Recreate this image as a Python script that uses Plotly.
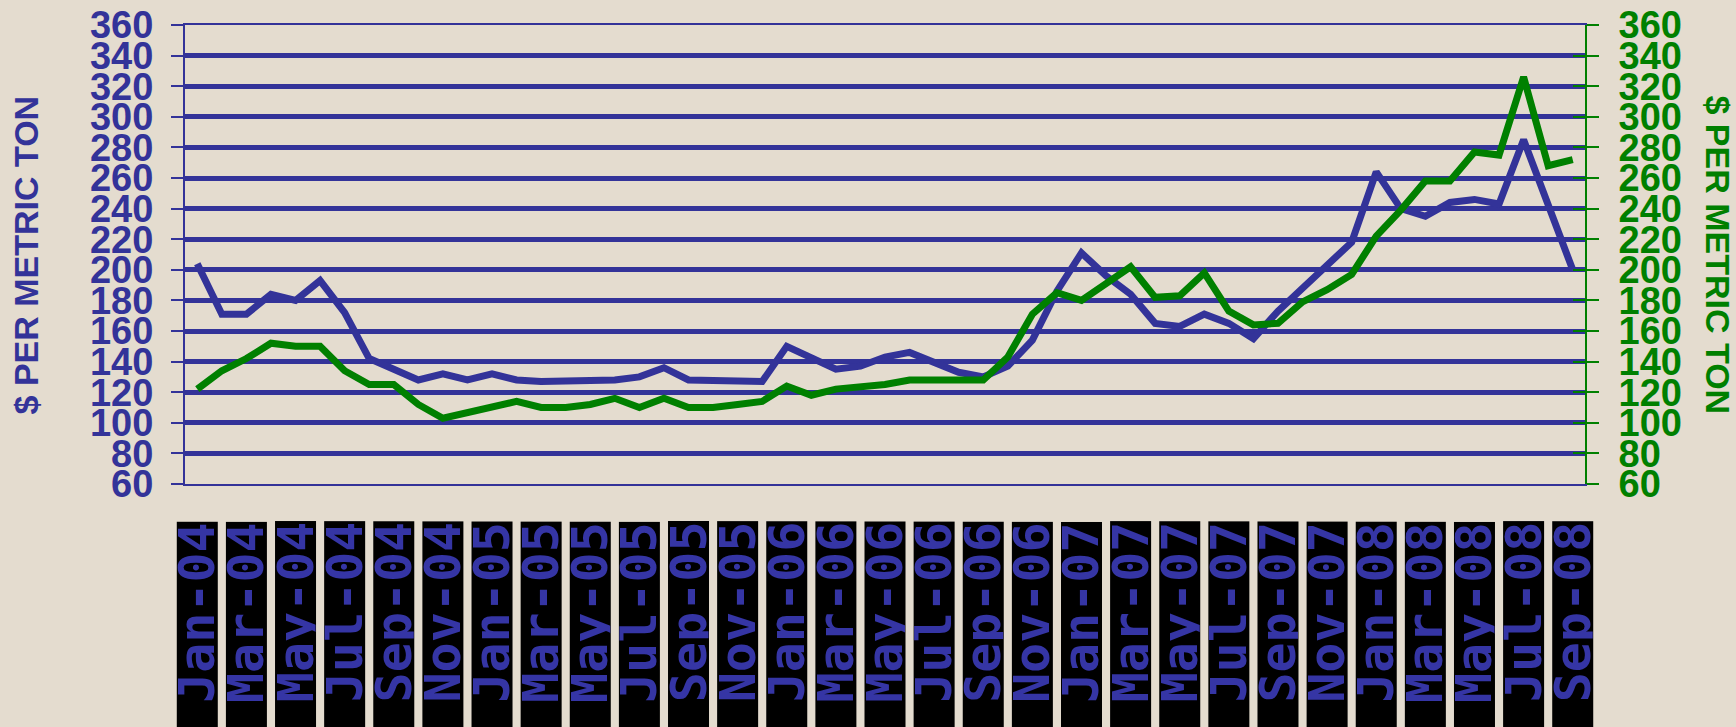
import plotly.graph_objects as go

# Monthly categories Jan-04 .. Sep-08
MONTH_ABBR = ["Jan", "Feb", "Mar", "Apr", "May", "Jun",
              "Jul", "Aug", "Sep", "Oct", "Nov", "Dec"]
MONTHS = [f"{m}-{y:02d}" for y in (4, 5, 6, 7, 8) for m in MONTH_ABBR][:57]

# Bi-monthly axis labels
TICK_LABELS = [
    "Jan-04", "Mar-04", "May-04", "Jul-04", "Sep-04", "Nov-04",
    "Jan-05", "Mar-05", "May-05", "Jul-05", "Sep-05", "Nov-05",
    "Jan-06", "Mar-06", "May-06", "Jul-06", "Sep-06", "Nov-06",
    "Jan-07", "Mar-07", "May-07", "Jul-07", "Sep-07", "Nov-07",
    "Jan-08", "Mar-08", "May-08", "Jul-08", "Sep-08",
]

# $ per metric ton, left (blue) series
BLUE_SERIES = [
    204, 171, 171, 184, 180, 193, 172, 142, 135, 128, 132, 128,
    132, 128, 127, 127, 127, 128, 130, 136, 128, 128, 128, 127,
    150, 143, 135, 137, 143, 146, 139, 133, 130, 137, 154, 186,
    211, 196, 184, 165, 163, 171, 165, 155, 173, 188, 203, 218,
    264, 240, 235, 244, 246, 243, 285, 243, 200,
]

# $ per metric ton, right (green) series
GREEN_SERIES = [
    122, 134, 142, 152, 150, 150, 134, 125, 125, 112, 103, 107,
    111, 114, 110, 110, 112, 116, 110, 116, 110, 110, 112, 114,
    124, 118, 122, 123, 125, 128, 128, 128, 128, 143, 171, 185,
    180, 191, 202, 182, 183, 198, 173, 164, 165, 179, 187, 197,
    222, 239, 258, 258, 277, 275, 326, 268, 272,
]

Y_TICKS = list(range(60, 361, 20))

BLUE = "#333399"
LABEL_BLUE = "#3535a5"
GREEN = "#008000"
BG = "#e4dccf"
TICK_FONT = "Liberation Sans, Arial, sans-serif"
LABEL_FONT = "DejaVu Sans Mono, monospace"

fig = go.Figure()
fig.add_trace(go.Scatter(x=MONTHS, y=BLUE_SERIES, mode="lines",
                         line=dict(color=BLUE, width=7), yaxis="y",
                         showlegend=False))
fig.add_trace(go.Scatter(x=MONTHS, y=GREEN_SERIES, mode="lines",
                         line=dict(color=GREEN, width=7), yaxis="y2",
                         showlegend=False))
# invisible copy on the right-hand tick axis so its inner tick marks render
fig.add_trace(go.Scatter(x=MONTHS, y=GREEN_SERIES, mode="lines",
                         line=dict(color="rgba(0,0,0,0)", width=0),
                         yaxis="y3", showlegend=False, hoverinfo="skip"))

# Month labels in black boxes below the plot
annotations = []
for lab in TICK_LABELS:
    annotations.append(dict(
        x=lab, xref="x", y=-0.0806, yref="paper",
        xanchor="center", yanchor="top",
        text=lab, textangle=-90, showarrow=False,
        width=260, height=40, align="right", valign="middle",
        bgcolor="black", borderpad=0,
        font=dict(family=LABEL_FONT, size=50, color=LABEL_BLUE,
                  weight="bold"),
    ))

# Axis titles
annotations.append(dict(
    x=-0.1136, xref="paper", y=0.5, yref="paper",
    text="$ PER METRIC TON", textangle=-90, showarrow=False,
    xanchor="center", yanchor="middle",
    font=dict(family=TICK_FONT, size=34, color=BLUE, weight="bold"),
))
annotations.append(dict(
    x=1.095, xref="paper", y=0.5, yref="paper",
    text="$ PER METRIC TON", textangle=90, showarrow=False,
    xanchor="center", yanchor="middle",
    font=dict(family=TICK_FONT, size=34, color=GREEN, weight="bold"),
))

fig.update_layout(
    width=1736, height=727,
    margin=dict(l=185, r=151, t=25, b=243, autoexpand=False),
    paper_bgcolor=BG, plot_bgcolor="rgba(0,0,0,0)",
    annotations=annotations,
    xaxis=dict(
        type="category", range=[-0.5, len(MONTHS) - 0.5], automargin=False,
        showgrid=False, showticklabels=False, ticks="",
        showline=True, linecolor=BLUE, linewidth=2, mirror=True,
        zeroline=False,
    ),
    yaxis=dict(
        range=[60, 360], tickvals=Y_TICKS, automargin=False,
        showgrid=True, gridcolor=BLUE, gridwidth=5, zeroline=False,
        ticks="outside", ticklen=12, tickwidth=1.5, tickcolor=BLUE,
        showline=True, linecolor=BLUE, linewidth=2,
        tickfont=dict(family=TICK_FONT, size=38, color=BLUE, weight="bold"),
        ticklabelstandoff=10,
    ),
    yaxis2=dict(
        range=[60, 360], tickvals=Y_TICKS, overlaying="y", side="right",
        anchor="x", automargin=False, showgrid=False, zeroline=False,
        ticks="outside", ticklen=12, tickwidth=1.5, tickcolor=GREEN,
        showline=True, linecolor=GREEN, linewidth=2,
        tickfont=dict(family=TICK_FONT, size=38, color=GREEN, weight="bold"),
        ticklabelstandoff=12,
    ),
    yaxis3=dict(
        range=[60, 360], tickvals=Y_TICKS, overlaying="y", side="right",
        anchor="x", automargin=False, showgrid=False, zeroline=False,
        showticklabels=False, ticks="inside", ticklen=12, tickwidth=1.5,
        tickcolor=GREEN, showline=False,
    ),
)

fig.write_html("out.html")
